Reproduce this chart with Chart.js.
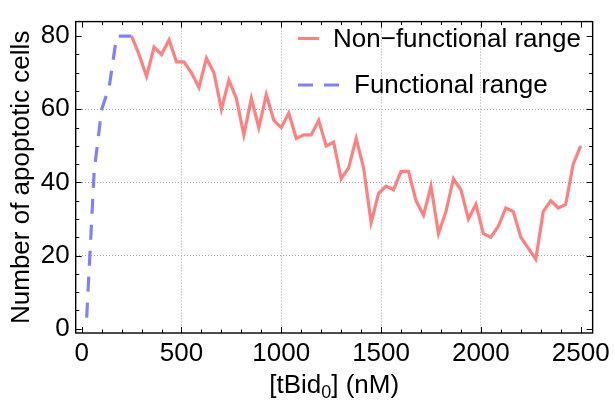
<!DOCTYPE html>
<html lang="en">
<head>
<meta charset="UTF-8" />
<title>Apoptotic cells vs tBid0</title>
<script src="https://cdn.jsdelivr.net/npm/chart.js"></script>
<style>
  html, body { margin: 0; padding: 0; background: #fff; }
  #wrap { width: 615px; height: 406px; }
</style>
</head>
<body>
<div id="wrap"><canvas id="chart" width="615" height="406"></canvas></div>
<script>
  // Functional range (blue, dashed)
  const funcX = [25, 62.5, 100, 137.5, 175, 212.5, 250];
  const funcY = [3, 43, 60, 66, 80, 80, 80];

  // Non-functional range (red)
  const nonFuncX = [250, 287.5, 325, 362.5, 400, 437.5, 475, 512.5, 550, 587.5,
    625, 662.5, 700, 737.5, 775, 812.5, 850, 887.5, 925, 962.5,
    1000, 1037.5, 1075, 1112.5, 1150, 1187.5, 1225, 1262.5, 1300, 1337.5,
    1375, 1412.5, 1450, 1487.5, 1525, 1562.5, 1600, 1637.5, 1675, 1712.5,
    1750, 1787.5, 1825, 1862.5, 1900, 1937.5, 1975, 2012.5, 2050, 2087.5,
    2125, 2162.5, 2200, 2237.5, 2275, 2312.5, 2350, 2387.5, 2425, 2462.5, 2500];
  const nonFuncY = [80, 75, 69, 77, 75, 79, 73, 73, 70, 66,
    74, 70, 60, 68, 63, 53, 63, 55, 64, 57,
    55, 59, 52, 53, 53, 57, 50, 51, 41, 44,
    52, 44, 29, 37, 39, 38, 43, 43, 35, 31,
    39, 26, 32, 41, 38, 30, 34, 26, 25, 28,
    33, 32, 25, 22, 19, 32, 35, 33, 34, 45, 50];

  // Axis ticks
  const xTicks = [0, 500, 1000, 1500, 2000, 2500];
  const yTicks = [0, 20, 40, 60, 80];

  const FONT = '"Liberation Sans", Arial, sans-serif';

  const toPts = (xs, ys) => xs.map((v, i) => ({ x: v, y: ys[i] }));

  // frame with inward ticks, legend and x title (with subscript)
  const framePlugin = {
    id: 'frame',
    afterDraw(chart) {
      const { ctx, chartArea: a, scales: { x, y } } = chart;
      ctx.save();
      ctx.strokeStyle = '#000';
      ctx.lineWidth = 1;
      ctx.beginPath();
      for (let v = 0; v <= 2500; v += 100) {
        const px = Math.round(x.getPixelForValue(v)) + 0.5;
        const len = v % 500 ? 3.5 : 6;
        ctx.moveTo(px, a.bottom); ctx.lineTo(px, a.bottom - len);
        ctx.moveTo(px, a.top); ctx.lineTo(px, a.top + len);
      }
      for (let v = 0; v <= 80; v += 5) {
        const py = Math.round(y.getPixelForValue(v)) + 0.5;
        const len = v % 20 ? 3.5 : 6;
        ctx.moveTo(a.left, py); ctx.lineTo(a.left + len, py);
        ctx.moveTo(a.right, py); ctx.lineTo(a.right - len, py);
      }
      ctx.stroke();
      ctx.lineWidth = 1.4;
      ctx.strokeRect(a.left, a.top, a.right - a.left, a.bottom - a.top);

      // legend
      const ds = chart.data.datasets;
      const rows = [
        { d: ds[0], x0: 298, x1: 319, y: 38.5, tx: 333, ty: 46.7 },
        { d: ds[1], x0: 298, x1: 340, y: 85, tx: 354, ty: 93.3 }
      ];
      ctx.font = '26px ' + FONT;
      ctx.fillStyle = '#000';
      ctx.textBaseline = 'alphabetic';
      rows.forEach(r => {
        ctx.strokeStyle = r.d.borderColor;
        ctx.lineWidth = r.d.borderWidth;
        ctx.setLineDash(r.d.borderDash || []);
        ctx.beginPath();
        ctx.moveTo(r.x0, r.y); ctx.lineTo(r.x1, r.y);
        ctx.stroke();
        ctx.setLineDash([]);
        ctx.fillText(r.d.label, r.tx, r.ty);
      });

      // x axis title: [tBid0] (nM)
      const p1 = '[tBid', sub = '0', p2 = '] (nM)';
      ctx.font = '26px ' + FONT;
      const w1 = ctx.measureText(p1).width, w3 = ctx.measureText(p2).width;
      ctx.font = '18px ' + FONT;
      const w2 = ctx.measureText(sub).width;
      let tx = (a.left + a.right) / 2 - (w1 + w2 + w3) / 2;
      const base = 393;
      ctx.font = '26px ' + FONT;
      ctx.fillText(p1, tx, base);
      ctx.font = '18px ' + FONT;
      ctx.fillText(sub, tx + w1, base + 5);
      ctx.font = '26px ' + FONT;
      ctx.fillText(p2, tx + w1 + w2, base);
      ctx.restore();
    }
  };

  new Chart(document.getElementById('chart'), {
    type: 'line',
    data: {
      datasets: [
        {
          label: 'Non\u2212functional range',
          data: toPts(nonFuncX, nonFuncY),
          borderColor: '#ff8080',
          borderWidth: 3.2,
          pointRadius: 0,
          tension: 0,
          fill: false
        },
        {
          label: 'Functional range',
          data: toPts(funcX, funcY),
          borderColor: '#8080ff',
          borderWidth: 3.2,
          borderDash: [15, 11],
          pointRadius: 0,
          tension: 0,
          fill: false
        }
      ]
    },
    options: {
      responsive: false,
      animation: false,
      devicePixelRatio: 1,
      layout: { padding: { top: 10.7, right: 17.7, left: 0, bottom: 0 } },
      plugins: { legend: { display: false }, tooltip: { enabled: false } },
      scales: {
        x: {
          type: 'linear',
          min: -30,
          max: 2560,
          afterBuildTicks: s => { s.ticks = xTicks.map(v => ({ value: v })); },
          afterFit: s => { s.height = 73; },
          ticks: {
            color: '#000', font: { family: FONT, size: 26 }, padding: 5, maxRotation: 0,
            callback: v => String(v)
          },
          grid: {
            drawTicks: false,
            lineWidth: 1,
            color: c => (c.tick && c.tick.value > 0 && c.tick.value < 2500) ? '#aaaaaa' : 'rgba(0,0,0,0)'
          },
          border: { display: false, dash: [1, 2] }
        },
        y: {
          type: 'linear',
          min: -1.2,
          max: 84,
          afterBuildTicks: s => { s.ticks = yTicks.map(v => ({ value: v })); },
          afterFit: s => { s.width = 75.7; },
          ticks: { color: '#000', font: { family: FONT, size: 26 }, padding: 6, callback: v => String(v) },
          grid: {
            drawTicks: false,
            lineWidth: 1,
            color: c => (c.tick && c.tick.value > 0 && c.tick.value < 80) ? '#aaaaaa' : 'rgba(0,0,0,0)'
          },
          border: { display: false, dash: [1, 2] },
          title: {
            display: true,
            text: 'Number of apoptotic cells',
            color: '#000',
            font: { family: FONT, size: 26 },
            padding: { top: 6, bottom: 0 }
          }
        }
      }
    },
    plugins: [framePlugin]
  });
</script>
</body>
</html>
